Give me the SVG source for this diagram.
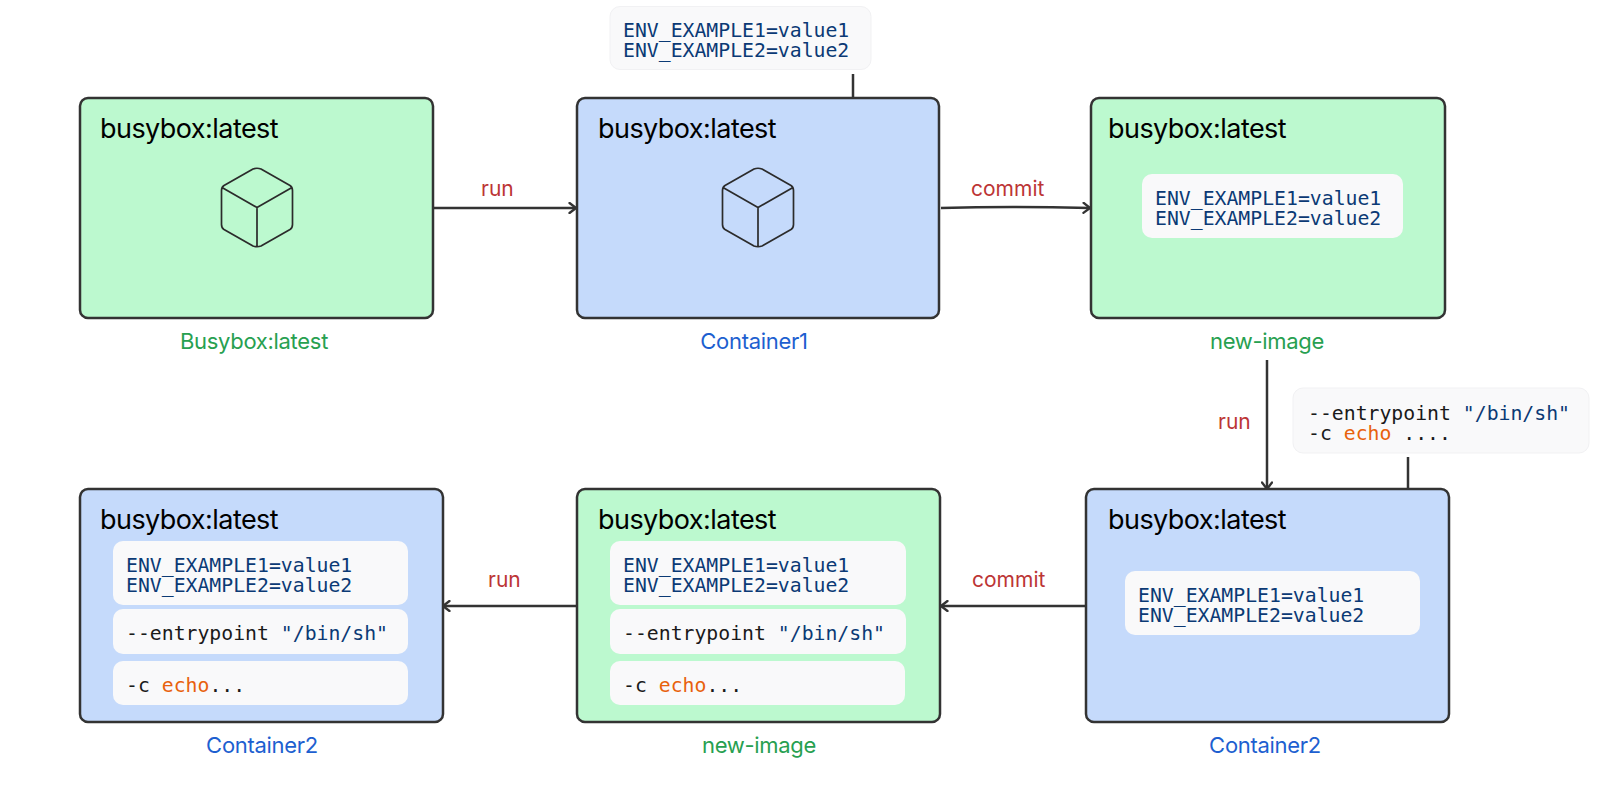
<svg xmlns="http://www.w3.org/2000/svg" width="1613" height="801" viewBox="0 0 1613 801">
<style>
.g{fill:#bcf9cf}.b{fill:#c5dafb}
.box{stroke:#333;stroke-width:2.5}
.pane{fill:#f9f9fa}
.float{fill:#f9f9fa;stroke:#f1f1f3;stroke-width:1}
.title{font:27px Inter,"Liberation Sans",sans-serif;letter-spacing:-.55px;fill:#000}
.cap{font:22px Inter,"Liberation Sans",sans-serif;letter-spacing:-.3px;text-anchor:middle}
.cg{fill:#27a050}.cb{fill:#1d5fd0}
.act{font:21px Inter,"Liberation Sans",sans-serif;fill:#bc3535}
.m{font:19.8px "DejaVu Sans Mono","Liberation Mono",monospace;fill:#1a1a1a}
.n{fill:#0b3a75}.o{fill:#e8610c}
.cn{fill:none;stroke:#333;stroke-width:2.5}
.cube{fill:none;stroke:#2b2b2b;stroke-width:1.7;stroke-linejoin:round}
</style>
<defs>
<marker id="a" viewBox="0 0 12 12" refX="10.5" refY="6" markerWidth="12" markerHeight="12" markerUnits="userSpaceOnUse" orient="auto"><path d="M4 1L10.5 6L4 11" fill="none" stroke="#333" stroke-width="2.3" stroke-linecap="round" stroke-linejoin="round"/></marker>
<g id="cube"><path class="cube" d="M-4 -38.5Q0 -40 4 -38.5L33 -22Q35.500 -20.500 35.500 -17V17Q35.500 20.500 33 22L4 38.500Q0 40 -4 38.500L-33 22Q-35.500 20.500 -35.500 17V-17Q-35.500 -20.500 -33 -22ZM-35 -20L0 0L35 -20M0 0V40"/></g>
</defs>
<g id="connectors">
<path class="cn" marker-end="url(#a)" d="M434 208H576"/>
<path class="cn" marker-end="url(#a)" d="M941 208Q1010 206 1090 208"/>
<path class="cn" marker-end="url(#a)" d="M853 74V141"/>
<path class="cn" marker-end="url(#a)" d="M1267 360V489"/>
<path class="cn" marker-end="url(#a)" d="M1408 457V532"/>
<path class="cn" marker-end="url(#a)" d="M1086 606H941"/>
<path class="cn" marker-end="url(#a)" d="M577 606H443"/>
</g>
<g id="edge-labels">
<text class="act" x="481" y="196">run</text>
<text class="act" x="971" y="196">commit</text>
<text class="act" x="1218" y="429">run</text>
<text class="act" x="972" y="587">commit</text>
<text class="act" x="488" y="587">run</text>
</g>
<g id="busybox-image">
<rect class="box g" x="80" y="98" width="353" height="220" rx="8"/>
<text class="title" x="100" y="138">busybox:latest</text>
<use href="#cube" x="257" y="207.500"/>
<text class="cap cg" x="254" y="349">Busybox:latest</text>
</g>
<g id="env-note">
<rect class="float" x="610" y="6.500" width="261" height="63" rx="10"/>
<text class="m n" x="623" y="37">ENV_EXAMPLE1=value1</text>
<text class="m n" x="623" y="57">ENV_EXAMPLE2=value2</text>
</g>
<g id="container1">
<rect class="box b" x="577" y="98" width="362" height="220" rx="8"/>
<text class="title" x="598" y="138">busybox:latest</text>
<use href="#cube" x="758" y="207.500"/>
<text class="cap cb" x="754" y="349">Container1</text>
</g>
<g id="new-image-1">
<rect class="box g" x="1091" y="98" width="354" height="220" rx="8"/>
<text class="title" x="1108" y="138">busybox:latest</text>
<rect class="pane" x="1142" y="174" width="261" height="64" rx="10"/>
<text class="m n" x="1155" y="205">ENV_EXAMPLE1=value1</text>
<text class="m n" x="1155" y="225">ENV_EXAMPLE2=value2</text>
<text class="cap cg" x="1267" y="349">new-image</text>
</g>
<g id="entrypoint-note">
<rect class="float" x="1293" y="388" width="296" height="65" rx="10"/>
<text class="m" x="1308" y="420">--entrypoint <tspan class="n">"/bin/sh"</tspan></text>
<text class="m" x="1308" y="440">-c <tspan class="o">echo</tspan> ....</text>
</g>
<g id="container2-right">
<rect class="box b" x="1086" y="489" width="363" height="233" rx="8"/>
<text class="title" x="1108" y="529">busybox:latest</text>
<rect class="pane" x="1125" y="571" width="295" height="64" rx="10"/>
<text class="m n" x="1138" y="602">ENV_EXAMPLE1=value1</text>
<text class="m n" x="1138" y="622">ENV_EXAMPLE2=value2</text>
<text class="cap cb" x="1265" y="753">Container2</text>
</g>
<g id="new-image-2">
<rect class="box g" x="577" y="489" width="363" height="233" rx="8"/>
<text class="title" x="598" y="529">busybox:latest</text>
<rect class="pane" x="610" y="541" width="296" height="64" rx="10"/>
<text class="m n" x="623" y="572">ENV_EXAMPLE1=value1</text>
<text class="m n" x="623" y="592">ENV_EXAMPLE2=value2</text>
<rect class="pane" x="610" y="609" width="296" height="45" rx="10"/>
<text class="m" x="623" y="640">--entrypoint <tspan class="n">"/bin/sh"</tspan></text>
<rect class="pane" x="610" y="661" width="295" height="44" rx="10"/>
<text class="m" x="623" y="692">-c <tspan class="o">echo</tspan>...</text>
<text class="cap cg" x="759" y="753">new-image</text>
</g>
<g id="container2-left">
<rect class="box b" x="80" y="489" width="363" height="233" rx="8"/>
<text class="title" x="100" y="529">busybox:latest</text>
<rect class="pane" x="113" y="541" width="295" height="64" rx="10"/>
<text class="m n" x="126" y="572">ENV_EXAMPLE1=value1</text>
<text class="m n" x="126" y="592">ENV_EXAMPLE2=value2</text>
<rect class="pane" x="113" y="609" width="295" height="45" rx="10"/>
<text class="m" x="126" y="640">--entrypoint <tspan class="n">"/bin/sh"</tspan></text>
<rect class="pane" x="113" y="661" width="295" height="44" rx="10"/>
<text class="m" x="126" y="692">-c <tspan class="o">echo</tspan>...</text>
<text class="cap cb" x="262" y="753">Container2</text>
</g>
</svg>
